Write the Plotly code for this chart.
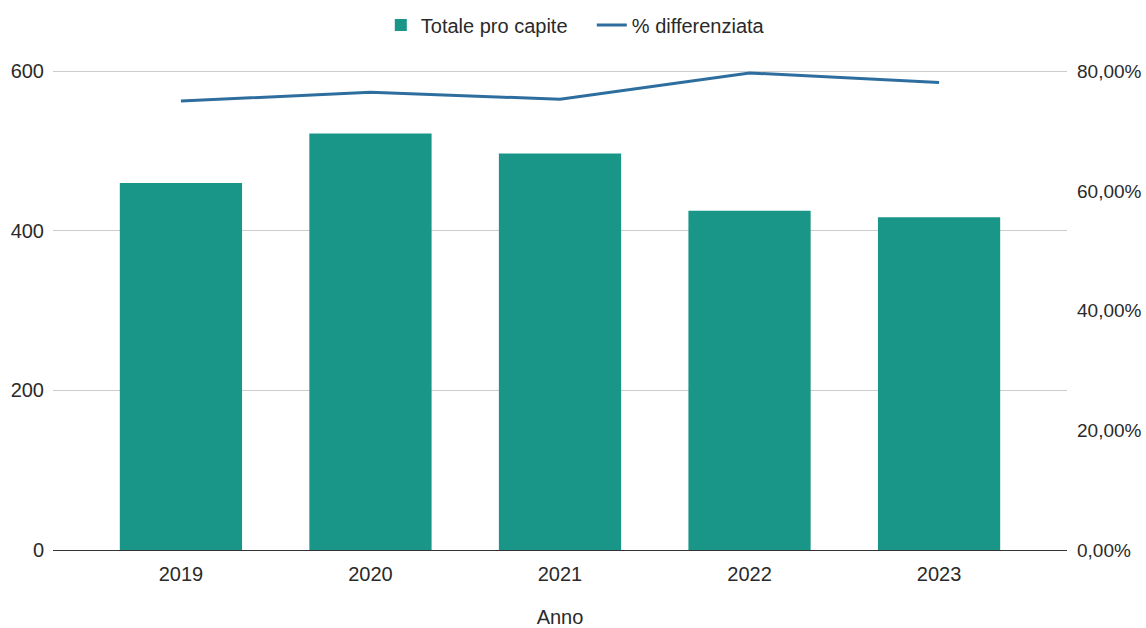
import plotly.graph_objects as go

anni = ["2019", "2020", "2021", "2022", "2023"]
totale_pro_capite = [460, 522, 497, 425, 417]
perc_differenziata = [0.750, 0.765, 0.753, 0.797, 0.781]

font_family = "Liberation Sans, Arial, sans-serif"
FS = 20

W, H = 1146, 628

fig = go.Figure()
fig.add_trace(go.Bar(
    x=anni, y=totale_pro_capite, name="Totale pro capite",
    marker=dict(color="#1a9688", line=dict(width=0)),
    width=0.645, yaxis="y",
))
fig.add_trace(go.Scatter(
    x=anni, y=perc_differenziata, name="% differenziata",
    mode="lines", line=dict(color="#2e6e9e", width=3), yaxis="y2",
))

top = 601.5
fig.update_layout(
    width=W, height=H,
    margin=dict(l=53, r=79, t=70, b=78, autoexpand=False),
    paper_bgcolor="white", plot_bgcolor="white",
    font=dict(family=font_family, size=FS, color="#2a2a2a"),
    separators=",.",
    showlegend=True,
    legend=dict(orientation="h", xref="container", x=0.5164, xanchor="center",
                yref="container", y=1 - 25 / H, yanchor="middle",
                font=dict(size=FS, color="#2a2a2a"), itemwidth=30,
                entrywidth=166, entrywidthmode="pixels"),
    xaxis=dict(
        title=dict(text="Anno", standoff=30, font=dict(size=FS)),
        range=[-0.675, 4.675], showgrid=False, automargin=False,
        showline=True, linecolor="#333333", linewidth=1,
        ticks="", tickfont=dict(size=FS), ticklabelstandoff=6,
    ),
    yaxis=dict(
        range=[0, top], tickvals=[0, 200, 400, 600], automargin=False,
        showgrid=True, gridcolor="#cccccc", gridwidth=1,
        zeroline=False, ticks="", tickfont=dict(size=FS),
        ticklabelstandoff=8,
    ),
    yaxis2=dict(
        range=[0, 0.8 * top / 600], tickvals=[0, 0.2, 0.4, 0.6, 0.8],
        tickformat=".2%", overlaying="y", side="right", automargin=False,
        showgrid=False, zeroline=False, ticks="", tickfont=dict(size=19),
        ticklabelstandoff=9,
    ),
)

fig.write_html(
    "out.html",
    config={"displayModeBar": False},
    post_script="document.body.style.margin='0';document.body.style.overflow='hidden';",
)
